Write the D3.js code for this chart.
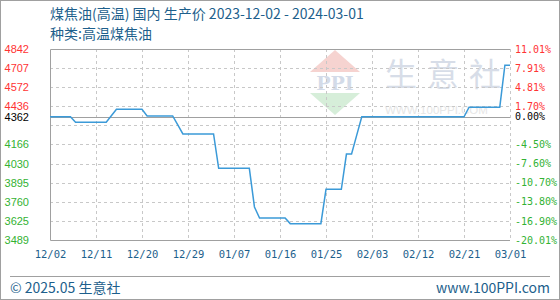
<!DOCTYPE html>
<html>
<head>
<meta charset="utf-8">
<script src="https://cdn.jsdelivr.net/npm/d3@7"></script>
<style>
  html, body { margin: 0; padding: 0; background: #fff; }
  svg { display: block; }
</style>
</head>
<body>
<svg id="chart" width="560" height="300"></svg>
<script>
// Daily producer price of high-temperature coal tar (yuan/ton), 2023-12-02 .. 2024-03-01
const startDate = "2023-12-02";
const prices = [
  4362, 4362, 4362, 4362, 4362,                   // 12/02 - 12/06
  4323, 4323, 4323, 4323, 4323, 4323, 4323,       // 12/07 - 12/13
  4369,                                           // 12/14
  4415, 4415, 4415, 4415, 4415, 4415,             // 12/15 - 12/20
  4368, 4368, 4368, 4368, 4368, 4368,             // 12/21 - 12/26
  4304,                                           // 12/27
  4240, 4240, 4240, 4240, 4240, 4240, 4240,       // 12/28 - 01/03
  3997, 3997, 3997, 3997, 3997, 3997, 3997,       // 01/04 - 01/10
  3723,                                           // 01/11
  3645, 3645, 3645, 3645, 3645, 3645,             // 01/12 - 01/17
  3605, 3605, 3605, 3605, 3605, 3605, 3605,       // 01/18 - 01/24
  3848, 3848, 3848, 3848,                         // 01/25 - 01/28
  4098, 4098,                                     // 01/29 - 01/30
  4230,                                           // 01/31
  4362, 4362, 4362, 4362, 4362, 4362, 4362,       // 02/01 - 02/07
  4362, 4362, 4362, 4362, 4362, 4362, 4362,       // 02/08 - 02/14
  4362, 4362, 4362, 4362, 4362, 4362, 4362,       // 02/15 - 02/21
  4430, 4430, 4430, 4430, 4430, 4430, 4430,       // 02/22 - 02/28
  4727, 4727                                      // 02/29 - 03/01
];

const basePrice = 4362;
const yTickValues = [4842, 4707, 4572, 4436, 4362, 4166, 4030, 3895, 3760, 3625, 3489];
const pctLabels = ["11.01%", "7.91%", "4.81%", "1.70%", "0.00%", "-4.50%", "-7.60%", "-10.70%", "-13.80%", "-16.90%", "-20.01%"];
const gridValues = [4707, 4572, 4436, 4301, 4166, 4030, 3895, 3760, 3625];
const xTickDates = ["2023-12-02", "2023-12-11", "2023-12-20", "2023-12-29", "2024-01-07", "2024-01-16",
                    "2024-01-25", "2024-02-03", "2024-02-12", "2024-02-21", "2024-03-01"];

const titleText = "煤焦油(高温) 国内 生产价 2023-12-02 - 2024-03-01";
const subtitleText = "种类:高温煤焦油";

const parse = d3.utcParse("%Y-%m-%d");
const fmt = d3.utcFormat("%m/%d");
const t0 = parse(startDate);
const series = prices.map((v, i) => ({ date: d3.utcDay.offset(t0, i), value: v }));

const W = 560, H = 300;
const plot = { left: 50, right: 510, top: 49, bottom: 240 };

const svg = d3.select("#chart");

const x = d3.scaleUtc()
  .domain([t0, parse(xTickDates[xTickDates.length - 1])])
  .range([plot.left, plot.right]);
const y = d3.scaleLinear()
  .domain([3489, 4842])
  .range([plot.bottom, plot.top]);

// outer frame
svg.append("rect")
  .attr("x", 0.5).attr("y", 0.5).attr("width", W - 1).attr("height", H - 1)
  .attr("fill", "#fff").attr("stroke", "#a0a0a0");

// titles
const titleColor = "#1d5f8c";
svg.append("text").attr("x", 50).attr("y", 19)
  .attr("font-family", "'Noto Sans CJK SC', sans-serif").attr("font-size", 14)
  .attr("fill", titleColor).text(titleText);
svg.append("text").attr("x", 50).attr("y", 39)
  .attr("font-family", "'Noto Sans CJK SC', sans-serif").attr("font-size", 14)
  .attr("fill", titleColor).text(subtitleText);

// watermark
const wm = svg.append("g").attr("class", "watermark");
wm.append("path")
  .attr("d", "M335,50 L360,72 L310,72 Z").attr("fill", "#f6d3d0");
wm.append("path")
  .attr("d", "M310,93 L360,93 L335,115 Z").attr("fill", "#d6eed9");
wm.append("text").attr("x", 335).attr("y", 90).attr("text-anchor", "middle")
  .attr("font-family", "'DejaVu Serif', serif").attr("font-weight", "bold").attr("font-size", 19)
  .attr("fill", "#d3dbe8").text("PPI");
wm.append("text").attr("x", 385).attr("y", 86)
  .attr("font-family", "'Noto Sans CJK SC', sans-serif").attr("font-size", 32)
  .attr("letter-spacing", 10).attr("fill", "#d7dde8").text("生意社");
wm.append("text").attr("x", 385).attr("y", 114)
  .attr("font-family", "'Liberation Sans', Arial, sans-serif").attr("font-size", 11.5)
  .attr("fill", "#e6e6e6").text("WWW.100PPI.COM");

// grid
const grid = svg.append("g").attr("stroke", "#c8c8c8").attr("stroke-dasharray", "3,3");
grid.selectAll("line.h").data(gridValues).join("line")
  .attr("x1", plot.left).attr("x2", plot.right)
  .attr("y1", d => Math.round(y(d)) + 0.5).attr("y2", d => Math.round(y(d)) + 0.5);
grid.selectAll("line.v").data(xTickDates.slice(1)).join("line")
  .attr("x1", d => Math.round(x(parse(d))) + 0.5).attr("x2", d => Math.round(x(parse(d))) + 0.5)
  .attr("y1", plot.top).attr("y2", plot.bottom);

// frame: left, top, bottom solid
const frame = svg.append("g").attr("stroke", "#a0a0a0").attr("fill", "none");
frame.append("path")
  .attr("d", `M${plot.right},${plot.top + 0.5} H${plot.left + 0.5} V${plot.bottom + 0.5} H${plot.right}`);
// base price line
frame.append("line")
  .attr("x1", plot.left).attr("x2", plot.right)
  .attr("y1", Math.round(y(basePrice)) + 0.5).attr("y2", Math.round(y(basePrice)) + 0.5);

// price line
svg.append("path").datum(series)
  .attr("fill", "none").attr("stroke", "#3b9ad8").attr("stroke-width", 1.5)
  .attr("d", d3.line().x(d => x(d.date)).y(d => y(d.value)));

// y labels, left (price) and right (change vs base)
const colorFor = v => v > basePrice ? "#ff3333" : (v < basePrice ? "#33b233" : "#000");
const leftAxis = svg.append("g").attr("transform", `translate(${plot.left},0)`)
  .call(d3.axisLeft(y).tickValues(yTickValues).tickSize(0).tickPadding(21).tickFormat(d3.format("d")));
leftAxis.select(".domain").remove();
leftAxis.selectAll("text")
  .attr("font-family", "'Liberation Sans', Arial, sans-serif").attr("font-size", 11)
  .attr("fill", d => colorFor(d));

const pctScale = d3.scalePoint().domain(pctLabels).range([0, 1]);
const rightAxis = svg.append("g").attr("transform", `translate(${plot.right},0)`)
  .call(d3.axisRight(y).tickValues(yTickValues).tickSize(0).tickPadding(5)
    .tickFormat((d, i) => pctLabels[i]));
rightAxis.select(".domain").remove();
rightAxis.selectAll("text")
  .attr("font-family", "'DejaVu Sans Mono', monospace").attr("font-size", 10)
  .attr("fill", d => colorFor(d));

// x labels
const bottomAxis = svg.append("g").attr("transform", `translate(0,${plot.bottom})`)
  .call(d3.axisBottom(x).tickValues(xTickDates.map(parse)).tickSize(0).tickPadding(11).tickFormat(fmt));
bottomAxis.select(".domain").remove();
bottomAxis.selectAll("text")
  .attr("font-family", "'DejaVu Sans Mono', monospace").attr("font-size", 10.5)
  .attr("fill", "#1d5f8c");

// footer
svg.append("line").attr("x1", 10).attr("x2", 550).attr("y1", 276.5).attr("y2", 276.5)
  .attr("stroke", "#a0a0a0");
svg.append("text").attr("x", 10).attr("y", 293)
  .attr("font-family", "'Noto Sans CJK SC', sans-serif").attr("font-size", 14)
  .attr("fill", titleColor).text("© 2025.05 生意社");
svg.append("text").attr("x", 550).attr("y", 293).attr("text-anchor", "end")
  .attr("font-family", "'Noto Sans CJK SC', sans-serif").attr("font-size", 14)
  .attr("fill", titleColor).text("www.100PPI.com");
</script>
</body>
</html>
